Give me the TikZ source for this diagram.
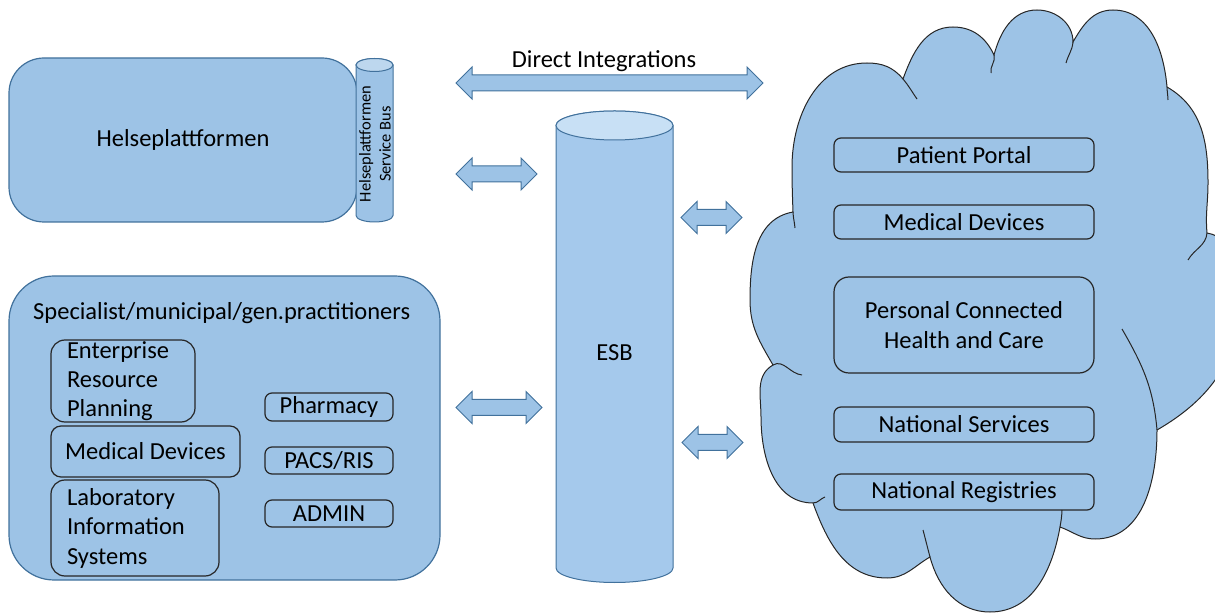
\documentclass[tikz,border=0pt]{standalone}
\usepackage{fontspec}
\setmainfont{Carlito}
\usetikzlibrary{shapes.arrows}
\definecolor{boxblue}{RGB}{157,195,230}
\definecolor{edgeblue}{RGB}{65,113,156}
\definecolor{esbblue}{RGB}{165,201,236}
\definecolor{esbtop}{RGB}{200,224,245}
\definecolor{bustop}{RGB}{189,215,238}
\definecolor{darkline}{RGB}{38,38,38}
\begin{document}
\begin{tikzpicture}[x=1pt,y=1pt,
    every node/.style={font=\fontsize{24.5}{29}\selectfont},
    bigbox/.style={draw=edgeblue,fill=boxblue,line width=1.2pt,rounded corners=#1},
    bigbox/.default=35pt,
    innerbox/.style={draw=darkline,line width=1.2pt,rounded corners=7pt,inner sep=0pt},
    twoway/.style={double arrow,draw=edgeblue,fill=boxblue,line width=1pt,
      double arrow head extend=8pt,inner xsep=0pt,inner ysep=7.5pt},
    cloudline/.style={draw=darkline,line width=1pt}]
  \useasboundingbox (0,0) rectangle (1215,613);
  % cloud
  \filldraw[cloudline,fill=boxblue] (793,401)
    to[out=92,in=-90] (792,446) to[out=90,in=180] (867,550) to[out=0,in=130] (903,534)
    to[out=70,in=180] (953,586) to[out=0,in=115] (994,558)
    to[out=75,in=180] (1037,603) to[out=0,in=90] (1073,571)
    to[out=60,in=180] (1113,603) to[out=0,in=95] (1167,526)
    to[out=-30,in=90] (1208,430) to[out=-90,in=95] (1207,380)
    to[out=-10,in=90] (1240,315) to[out=-90,in=30] (1157,183)
    to[out=-90,in=0] (1095,74) to[out=180,in=-20] (1060,86)
    to[out=-100,in=0] (990,1) to[out=180,in=-75] (930,56)
    to[out=-150,in=0] (887,35) to[out=180,in=-70] (813,110)
    to[out=180,in=-90] (761,196) to[out=90,in=-150] (773,248)
    to[out=120,in=-90] (750,313) to[out=90,in=190] (793,401) -- cycle;
  \draw[cloudline] (795,385) to[out=95,in=-88] (793,401);
  \draw[cloudline] (903,534) to[out=-50,in=125] (917,514);
  \draw[cloudline] (994,558) to[out=-75,in=100] (991,540);
  \draw[cloudline] (1073,571) to[out=-95,in=75] (1066,550);
  \draw[cloudline] (1167,526) to[out=-88,in=92] (1168,513);
  \draw[cloudline] (1207,380) to[out=-95,in=60] (1188,353);
  \draw[cloudline] (1122,284) to[out=-60,in=95] (1157,183);
  \draw[cloudline] (1062,103) to[out=-92,in=80] (1060,86);
  \draw[cloudline] (930,56) to[out=105,in=-75] (923,83);
  \draw[cloudline] (813,110) to[out=0,in=200] (825,116);
  \draw[cloudline] (773,248) to[out=30,in=175] (802,238);
  % cloud services
  \node[innerbox,minimum width=260pt,minimum height=34pt] (portal) at (964,458) {Patient Portal};
  \node[innerbox,minimum width=260pt,minimum height=34pt] (cmed) at (964,391) {Medical Devices};
  \node[innerbox,rounded corners=15pt,minimum width=260pt,minimum height=96pt,align=center,
    font=\fontsize{24.5}{30}\selectfont] (pchc) at (964,288) {Personal Connected\\Health and Care};
  \node[innerbox,minimum width=260pt,minimum height=35pt] (natserv) at (964,188.5) {National Services};
  \node[innerbox,minimum width=260pt,minimum height=36pt] (natreg) at (964,121) {National Registries};
  % Helseplattformen
  \node[bigbox,minimum width=348pt,minimum height=164pt] (hp) at (183,473) {Helseplattformen};
  \filldraw[draw=edgeblue,fill=boxblue,line width=1pt] (356,548) -- (356,397.5)
    arc[start angle=180,end angle=360,x radius=18.5pt,y radius=6.5pt] -- (393,548)
    arc[start angle=0,end angle=180,x radius=18.5pt,y radius=6.5pt] -- cycle;
  \filldraw[draw=edgeblue,fill=bustop,line width=1pt] (374.5,548) ellipse[x radius=18.5pt,y radius=6.5pt];
  \node[rotate=90,align=center,font=\fontsize{16.5}{20}\selectfont] (hpbus) at (375,469) {Helseplattformen\\Service Bus};
  % ESB
  \filldraw[draw=edgeblue,fill=esbblue,line width=1pt] (556,487.5) -- (556,45)
    arc[start angle=180,end angle=360,x radius=58.5pt,y radius=14.5pt] -- (673,487.5)
    arc[start angle=0,end angle=180,x radius=58.5pt,y radius=14.5pt] -- cycle;
  \filldraw[draw=edgeblue,fill=esbtop,line width=1pt] (614.5,487.5) ellipse[x radius=58.5pt,y radius=14.5pt];
  \node (esb) at (614.5,260) {ESB};
  % arrows
  \node (dilabel) at (604,552) {Direct Integrations};
  \node[twoway,minimum height=307pt,minimum width=31pt] (diarrow) at (609.5,530) {};
  \node[twoway,minimum height=81pt,minimum width=32pt] (hparrow) at (496.5,439) {};
  \node[twoway,minimum height=86pt,minimum width=29pt] (sparrow) at (499,205.5) {};
  \node[twoway,minimum height=61pt,minimum width=31pt] (cloudarrowa) at (711.5,395.5) {};
  \node[twoway,minimum height=61pt,minimum width=31pt] (cloudarrowb) at (712.5,170.5) {};
  % practitioners
  \node[bigbox=45pt,minimum width=431pt,minimum height=304pt] (sp) at (224.5,185) {};
  \node[anchor=west,inner sep=0pt] (sptitle) at (33,300) {Specialist/municipal/gen.practitioners};
  \node[innerbox,rounded corners=14pt,minimum width=144pt,minimum height=82pt,
    text width=112pt,inner xsep=16pt,align=left] (erp) at (123,232) {Enterprise\\Resource\\Planning};
  \node[innerbox,rounded corners=10pt,minimum width=189pt,minimum height=51pt] (spmed) at (145.5,161.5) {Medical Devices};
  \node[innerbox,rounded corners=14pt,minimum width=168pt,minimum height=96pt,
    text width=136pt,inner xsep=16pt,align=left,font=\fontsize{24.5}{29.5}\selectfont] (lab) at (135,85) {Laboratory\\Information\\Systems};
  \node[innerbox,minimum width=128pt,minimum height=28pt] (pharm) at (329,206) {Pharmacy};
  \node[innerbox,minimum width=128pt,minimum height=27pt] (pacs) at (329,152.5) {PACS/RIS};
  \node[innerbox,minimum width=128pt,minimum height=27pt] (admin) at (329,99.5) {ADMIN};
\end{tikzpicture}
\end{document}
